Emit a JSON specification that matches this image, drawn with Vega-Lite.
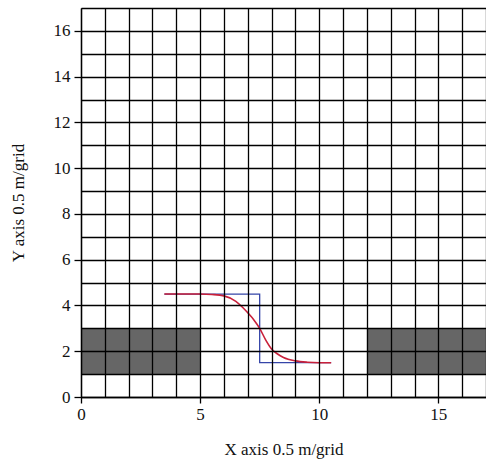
{
  "$schema": "https://vega.github.io/schema/vega-lite/v6.json",
  "width": 405,
  "height": 389,
  "autosize": {"type": "none"},
  "padding": {"left": 81, "top": 8, "right": 0, "bottom": 62},
  "background": "white",
  "config": {
    "view": {"stroke": null},
    "font": "Liberation Serif",
    "axis": {
      "labelFont": "Liberation Serif",
      "titleFont": "Liberation Serif",
      "labelFontSize": 17,
      "titleFontSize": 17,
      "titleFontWeight": "normal",
      "labelColor": "#111",
      "titleColor": "#111",
      "grid": true,
      "gridColor": "#000",
      "gridWidth": 1.3,
      "gridOpacity": 1,
      "domainColor": "#000",
      "domainWidth": 1.3,
      "tickColor": "#000",
      "tickWidth": 1.3,
      "labelOverlap": false,
      "labelFlush": false,
      "tickCount": 30,
      "format": "d"
    }
  },
  "datasets": {
    "obstacles": [
      {"x": 0, "x2": 5, "y": 1, "y2": 3},
      {"x": 12, "x2": 17, "y": 1, "y2": 3}
    ],
    "path": [
      {"o": 1, "x": 3.5, "y": 4.5},
      {"o": 2, "x": 7.5, "y": 4.5},
      {"o": 3, "x": 7.5, "y": 1.5},
      {"o": 4, "x": 10.5, "y": 1.5}
    ],
    "curve": [
      {"o": 1, "x": 3.5, "y": 4.5},
      {"o": 2, "x": 5.0, "y": 4.5},
      {"o": 3, "x": 5.5, "y": 4.48},
      {"o": 4, "x": 6.0, "y": 4.42},
      {"o": 5, "x": 6.5, "y": 4.18},
      {"o": 6, "x": 6.8, "y": 3.9},
      {"o": 7, "x": 7.0, "y": 3.68},
      {"o": 8, "x": 7.25, "y": 3.38},
      {"o": 9, "x": 7.5, "y": 3.0},
      {"o": 10, "x": 7.75, "y": 2.5},
      {"o": 11, "x": 8.0, "y": 2.1},
      {"o": 12, "x": 8.25, "y": 1.88},
      {"o": 13, "x": 8.5, "y": 1.73},
      {"o": 14, "x": 9.0, "y": 1.58},
      {"o": 15, "x": 9.5, "y": 1.52},
      {"o": 16, "x": 10.0, "y": 1.5},
      {"o": 17, "x": 10.5, "y": 1.5}
    ]
  },
  "layer": [
    {
      "data": {"name": "obstacles"},
      "mark": {"type": "rect", "color": "#666666"},
      "encoding": {
        "x": {
          "field": "x", "type": "quantitative",
          "scale": {"domain": [0, 17], "nice": false, "zero": false},
          "axis": {
            "title": "X axis 0.5 m/grid",
            "zindex": 1,
            "values": [0,1,2,3,4,5,6,7,8,9,10,11,12,13,14,15,16,17],
            "labelExpr": "datum.value % 5 === 0 ? datum.label : ''",
            "tickSize": {"condition": {"test": "datum.value % 5 === 0", "value": 6}, "value": 0},
            "labelPadding": 3,
            "titlePadding": 19
          }
        },
        "x2": {"field": "x2"},
        "y": {
          "field": "y", "type": "quantitative",
          "scale": {"domain": [0, 17], "nice": false, "zero": false},
          "axis": {
            "title": "Y axis 0.5 m/grid",
            "zindex": 1,
            "values": [0,1,2,3,4,5,6,7,8,9,10,11,12,13,14,15,16,17],
            "labelExpr": "datum.value % 2 === 0 && datum.value <= 16 ? datum.label : ''",
            "tickSize": {"condition": {"test": "datum.value % 2 === 0 && datum.value <= 16", "value": 7}, "value": 0},
            "labelPadding": 4,
            "titlePadding": 26
          }
        },
        "y2": {"field": "y2"}
      }
    },
    {
      "data": {"name": "path"},
      "mark": {"type": "line", "color": "#3545a8", "strokeWidth": 1.3},
      "encoding": {
        "x": {"field": "x", "type": "quantitative"},
        "y": {"field": "y", "type": "quantitative"},
        "order": {"field": "o"}
      }
    },
    {
      "data": {"name": "curve"},
      "mark": {"type": "line", "color": "#c8203a", "strokeWidth": 1.6, "interpolate": "monotone"},
      "encoding": {
        "x": {"field": "x", "type": "quantitative"},
        "y": {"field": "y", "type": "quantitative"},
        "order": {"field": "o"}
      }
    }
  ]
}
